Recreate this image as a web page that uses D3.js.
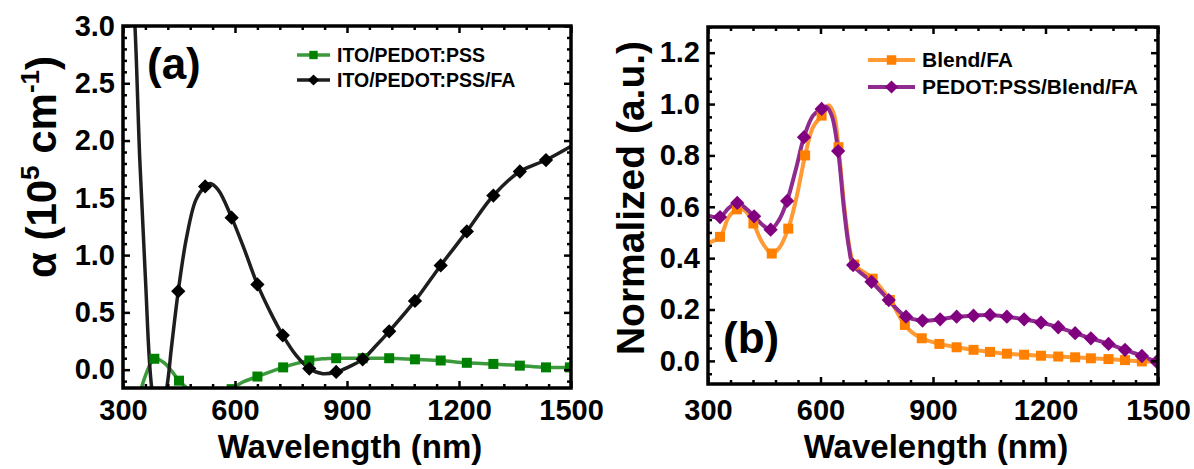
<!DOCTYPE html>
<html>
<head>
<meta charset="utf-8">
<script src="https://cdn.jsdelivr.net/npm/d3@7"></script>
<style>
  body { margin: 0; background: #fff; }
  svg text { font-family: "Liberation Sans", Arial, sans-serif; font-weight: bold; fill: #000; }
</style>
</head>
<body>
<svg id="chart" width="1194" height="469"></svg>
<script>
// tick labels
const wlTicks = [300, 600, 900, 1200, 1500];
const alphaTicks = [0, 0.5, 1.0, 1.5, 2.0, 2.5, 3.0];
const normTicks = [0, 0.2, 0.4, 0.6, 0.8, 1.0, 1.2];

// (a) ITO/PEDOT:PSS  [wavelength nm, alpha 1e5 cm-1]
const pssMarks = [[384,0.095],[450,-0.096],[591,-0.17],[660,-0.06],[729,0.02],[799,0.08],[871,0.10],[942,0.10],[1013,0.10],[1082,0.09],[1151,0.08],[1221,0.06],[1292,0.05],[1363,0.035],[1433,0.02],[1497,0.02]];
const pssCurve = [[340,-0.3],[355,-0.1],[410,0.06],[430,-0.01],[475,-0.17],[520,-0.3],[560,-0.26],[620,-0.11],[765,0.055],[835,0.095],[1500,0.02]];

// (a) ITO/PEDOT:PSS/FA
const faMarks = [[448,0.685],[520,1.60],[591,1.327],[660,0.744],[728,0.30],[799,0.01],[871,-0.02],[942,0.09],[1013,0.335],[1082,0.60],[1151,0.91],[1221,1.207],[1292,1.52],[1363,1.73],[1433,1.83]];
const faCurve = [[322,3.5],[332,3.0],[345,1.83],[360,0.8],[377,-0.16],[395,-0.45],[417,-0.16],[430,0.2],[470,1.15],[495,1.48],[533,1.625],[555,1.57],[625,1.05],[695,0.5],[765,0.12],[835,-0.035],[905,0.025],[975,0.2],[1500,1.95]];

// (b) Blend/FA  [wavelength nm, normalized]
const blendMarks = [[332,0.483],[377,0.59],[421,0.535],[470,0.418],[514,0.515],[559,0.80],[603,0.955],[648,0.832],[690,0.375],[739,0.32],[785,0.237],[825,0.14],[870,0.088],[917,0.066],[963,0.053],[1008,0.043],[1052,0.035],[1097,0.028],[1143,0.024],[1188,0.02],[1234,0.017],[1279,0.014],[1321,0.01],[1368,0.007],[1412,0.003],[1457,-0.002]];
const blendCurve = [[300,0.46],[355,0.56],[398,0.585],[445,0.46],[490,0.44],[535,0.63],[580,0.91],[622,0.995],[636,0.96],[665,0.58],[680,0.42],[845,0.11],[1500,0.0]];

// (b) PEDOT:PSS/Blend/FA
const pedotMarks = [[332,0.56],[378,0.615],[423,0.563],[467,0.511],[511,0.623],[556,0.871],[603,0.981],[647,0.817],[687,0.373],[736,0.308],[782,0.237],[828,0.172],[872,0.157],[919,0.162],[963,0.172],[1008,0.176],[1052,0.179],[1097,0.172],[1143,0.162],[1188,0.149],[1234,0.131],[1279,0.108],[1321,0.088],[1368,0.066],[1412,0.043],[1457,0.019],[1496,-0.003]];
const pedotCurve = [[300,0.565],[355,0.595],[400,0.595],[445,0.53],[490,0.55],[535,0.75],[580,0.955],[615,0.99],[630,0.955],[662,0.6],[676,0.44],[805,0.2]];

const svg = d3.select("#chart");

const merge = (a, b) => a.concat(b).sort((p, q) => p[0] - q[0]);

const diamond = d3.symbol().type(d3.symbolDiamond2);
const square = d3.symbol().type(d3.symbolSquare);

function drawPanel(p) {
  const x = d3.scaleLinear().domain([300, 1500]).range([p.left, p.right]);
  const y = d3.scaleLinear().domain(p.yDomain).range([p.bottom, p.top]);
  const g = svg.append("g");

  // clip to plot area
  g.append("clipPath").attr("id", p.id + "-clip")
    .append("rect")
    .attr("x", p.left).attr("y", p.top)
    .attr("width", p.right - p.left).attr("height", p.bottom - p.top);

  const plot = g.append("g").attr("clip-path", `url(#${p.id}-clip)`);

  const line = d3.line()
    .x((d) => x(d[0]))
    .y((d) => y(d[1]))
    .curve(d3.curveCatmullRom.alpha(0.5));

  p.series.forEach((s) => {
    plot.append("path")
      .attr("d", line(merge(s.curve, s.marks)))
      .attr("fill", "none")
      .attr("stroke", s.lineColor)
      .attr("stroke-width", s.lineWidth);
  });
  p.series.forEach((s) => {
    plot.selectAll(null)
      .data(s.marks)
      .enter()
      .append("path")
      .attr("d", (s.shape === "diamond" ? diamond : square).size(s.size))
      .attr("transform", (d) => `translate(${x(d[0])},${y(d[1])})`)
      .attr("fill", s.color);
  });

  // axes, ticks pointing inward
  const xMinor = d3.range(300, 1501, 60).filter((v) => v % 300 !== 0);
  const yMinor = d3.range(Math.ceil(p.yDomain[0] / p.yMinorStep), Math.floor(p.yDomain[1] / p.yMinorStep) + 1)
    .map((i) => +(i * p.yMinorStep).toFixed(3))
    .filter((v) => !p.yTicks.some((t) => Math.abs(t - v) < 1e-6));

  const addAxis = (axis, tx, ty, values, size, fmt, pad) => {
    const a = g.append("g")
      .attr("transform", `translate(${tx},${ty})`)
      .call(axis.tickValues(values).tickSize(size).tickPadding(pad || 0).tickFormat(fmt));
    a.select(".domain").remove();
    a.selectAll("line").attr("stroke", "#000").attr("stroke-width", 2.5);
    a.selectAll("text").attr("font-size", 29);
    return a;
  };

  const none = () => "";
  addAxis(d3.axisBottom(x), 0, p.bottom, wlTicks, -7, d3.format("d"), p.xPad);
  addAxis(d3.axisBottom(x), 0, p.bottom, xMinor, -4, none);
  addAxis(d3.axisTop(x), 0, p.top, wlTicks, -7, none);
  addAxis(d3.axisTop(x), 0, p.top, xMinor, -4, none);
  addAxis(d3.axisLeft(y), p.left, 0, p.yTicks, -7, d3.format(".1f"), 8);
  addAxis(d3.axisLeft(y), p.left, 0, yMinor, -4, none);
  addAxis(d3.axisRight(y), p.right, 0, p.yTicks, -7, none);
  addAxis(d3.axisRight(y), p.right, 0, yMinor, -4, none);

  g.append("rect")
    .attr("x", p.left).attr("y", p.top)
    .attr("width", p.right - p.left).attr("height", p.bottom - p.top)
    .attr("fill", "none").attr("stroke", "#000").attr("stroke-width", 3.5);

  // x title
  g.append("text")
    .attr("x", (p.left + p.right) / 2 + 3).attr("y", 458)
    .attr("text-anchor", "middle").attr("font-size", 33)
    .text("Wavelength (nm)");

  // panel tag
  g.append("text")
    .attr("x", p.tag.x).attr("y", p.tag.y)
    .attr("font-size", 44)
    .text(p.tag.text);

  // legend
  p.series.forEach((s, i) => {
    const ly = p.legend.y + i * p.legend.dy;
    g.append("line")
      .attr("x1", p.legend.x1).attr("x2", p.legend.x2)
      .attr("y1", ly).attr("y2", ly)
      .attr("stroke", s.lineColor).attr("stroke-width", s.lineWidth);
    g.append("path")
      .attr("d", (s.shape === "diamond" ? diamond : square).size(s.legendSize))
      .attr("transform", `translate(${(p.legend.x1 + p.legend.x2) / 2},${ly})`)
      .attr("fill", s.color);
    g.append("text")
      .attr("x", p.legend.x2 + 7).attr("y", ly + 7)
      .attr("font-size", p.legend.fontSize)
      .text(s.name);
  });
  return g;
}

drawPanel({
  id: "a", left: 123, right: 571, top: 26, bottom: 388,
  yDomain: [-0.16, 3.0], yTicks: alphaTicks, yMinorStep: 0.1, xPad: 11,
  tag: { x: 147, y: 79, text: "(a)" },
  legend: { x1: 297, x2: 330, y: 55, dy: 25, fontSize: 19.5 },
  series: [
    { name: "ITO/PEDOT:PSS", marks: pssMarks, curve: pssCurve, color: "#008000", lineColor: "#3c9a3c",
      lineWidth: 3.5, shape: "square", size: 100, legendSize: 70 },
    { name: "ITO/PEDOT:PSS/FA", marks: faMarks, curve: faCurve, color: "#000", lineColor: "#1e1e1e",
      lineWidth: 3.5, shape: "diamond", size: 130, legendSize: 80 }
  ]
});

drawPanel({
  id: "b", left: 708, right: 1158, top: 27, bottom: 384,
  yDomain: [-0.09, 1.3], yTicks: normTicks, yMinorStep: 0.05, xPad: 15,
  tag: { x: 723, y: 353, text: "(b)" },
  legend: { x1: 868, x2: 915, y: 60, dy: 27, fontSize: 21 },
  series: [
    { name: "Blend/FA", marks: blendMarks, curve: blendCurve, color: "#ff8000", lineColor: "#ff9a35",
      lineWidth: 4, shape: "square", size: 100, legendSize: 90 },
    { name: "PEDOT:PSS/Blend/FA", marks: pedotMarks, curve: pedotCurve, color: "#800080", lineColor: "#8f2a8f",
      lineWidth: 4, shape: "diamond", size: 130, legendSize: 110 }
  ]
});

// y titles
svg.append("text")
  .attr("transform", "translate(56,167) rotate(-90)")
  .attr("text-anchor", "middle")
  .attr("font-size", 42)
  .call((t) => {
    t.append("tspan").text("α (10");
    t.append("tspan").attr("dy", -17).attr("font-size", 26).text("5");
    t.append("tspan").attr("dy", 17).text(" cm");
    t.append("tspan").attr("dy", -17).attr("font-size", 26).text("-1");
    t.append("tspan").attr("dy", 17).text(")");
  });

svg.append("text")
  .attr("transform", "translate(644,198) rotate(-90)")
  .attr("text-anchor", "middle")
  .attr("font-size", 39)
  .text("Normalized (a.u.)");
</script>
</body>
</html>
